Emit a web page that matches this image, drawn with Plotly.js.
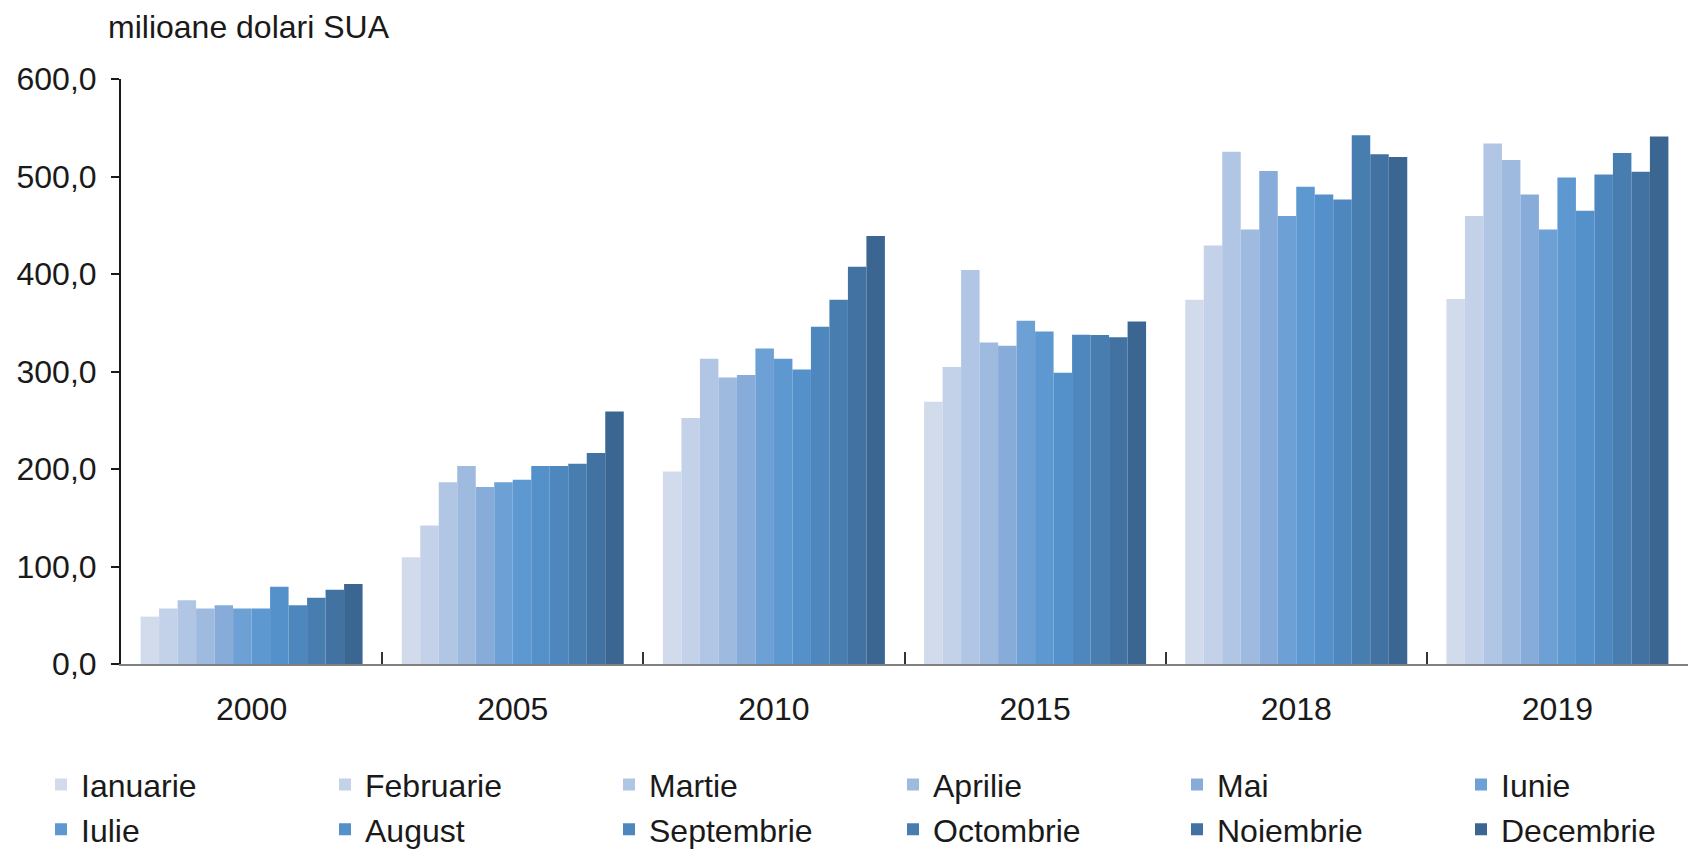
<!DOCTYPE html>
<html>
<head>
<meta charset="utf-8">
<script src="https://cdn.plot.ly/plotly-3.0.1.min.js"></script>
<style>
  html, body { margin: 0; padding: 0; background: #ffffff; }
  #chart { width: 1690px; height: 859px; }
</style>
</head>
<body>
<div id="chart"></div>
<script>
// Categories (years)
var years = ["2000", "2005", "2010", "2015", "2018", "2019"];

// Month series names
var months = ["Ianuarie", "Februarie", "Martie", "Aprilie", "Mai", "Iunie",
              "Iulie", "August", "Septembrie", "Octombrie", "Noiembrie", "Decembrie"];

// Values (milioane dolari SUA), one array per month, ordered by year
var ianuarie   = [48.6, 109.4, 197.5, 268.9, 373.6, 374.3];
var februarie  = [57.0, 142.0, 252.3, 304.7, 429.2, 459.4];
var martie     = [65.3, 186.5, 313.1, 404.1, 525.3, 533.8];
var aprilie    = [57.0, 203.0, 293.8, 329.7, 445.6, 517.0];
var mai        = [60.3, 181.5, 296.4, 326.4, 505.7, 481.5];
var iunie      = [57.0, 186.5, 323.7, 352.0, 459.4, 445.6];
var iulie      = [57.0, 189.0, 313.1, 341.0, 489.6, 499.0];
var august     = [79.2, 203.0, 302.1, 298.8, 481.5, 465.0];
var septembrie = [60.3, 203.0, 346.0, 337.6, 476.5, 502.0];
var octombrie  = [68.0, 205.5, 373.5, 337.5, 542.4, 524.0];
var noiembrie  = [76.2, 216.5, 407.4, 335.1, 522.9, 505.0];
var decembrie  = [82.0, 259.0, 439.0, 351.3, 520.1, 541.0];

var series = [ianuarie, februarie, martie, aprilie, mai, iunie,
              iulie, august, septembrie, octombrie, noiembrie, decembrie];

// Y tick values
var yTicks = [0, 100, 200, 300, 400, 500, 600];

var colors = ["#d2dbeb", "#c3d2e9", "#b1c6e4", "#9fbadf", "#88acd9", "#6da0d5",
              "#5d98d1", "#5490c9", "#4e87be", "#487db0", "#4272a2", "#3b6692"];

var FONT = "Liberation Sans, Arial, sans-serif";
var TXT = "#1a1a1a";

// six legend columns (each with two rows), evenly spaced like the original
var legendNames = ["legend", "legend2", "legend3", "legend4", "legend5", "legend6"];
var PLOT_L = 121, PLOT_W = 1690 - 121 - 2;
var legendX = [0, 1, 2, 3, 4, 5].map(function (k) {
  return (41 + 284 * k - PLOT_L) / PLOT_W;
});

var traces = series.map(function (vals, i) {
  return {
    type: "bar",
    name: months[i],
    x: years,
    y: vals,
    marker: { color: colors[i], line: { width: 0 } },
    legend: legendNames[i % 6],
    hoverinfo: "x+y+name"
  };
});

var layout = {
  width: 1690,
  height: 859,
  paper_bgcolor: "#ffffff",
  plot_bgcolor: "#ffffff",
  font: { family: FONT, size: 32, color: TXT },
  separators: ",.",
  margin: { l: PLOT_L, r: 2, t: 79, b: 178, pad: 0 },
  barmode: "group",
  bargap: 0.15,
  bargroupgap: 0,
  title: {
    text: "milioane dolari SUA",
    font: { family: FONT, size: 32, color: TXT },
    xref: "container", x: 108 / 1690, xanchor: "left",
    yref: "container", y: 1 - 27 / 859, yanchor: "middle"
  },
  xaxis: {
    type: "category",
    showgrid: false,
    showline: true,
    linecolor: "#808080",
    linewidth: 2,
    ticks: "inside",
    tickson: "boundaries",
    ticklen: 12,
    tickwidth: 2,
    tickcolor: "#333333",
    ticklabelstandoff: 16,
    tickfont: { family: FONT, size: 32, color: TXT },
    zeroline: false
  },
  yaxis: {
    range: [0, 600],
    tickvals: yTicks,
    tickformat: ".1f",
    showgrid: false,
    zeroline: false,
    showline: true,
    linecolor: "#1a1a1a",
    linewidth: 2,
    ticks: "outside",
    ticklen: 8,
    tickwidth: 2,
    tickcolor: "#1a1a1a",
    ticklabelstandoff: 8,
    tickfont: { family: FONT, size: 32, color: TXT }
  },
  showlegend: true
};

legendNames.forEach(function (nm, k) {
  layout[nm] = {
    orientation: "v",
    x: legendX[k],
    xanchor: "left",
    y: -0.1595,
    yanchor: "top",
    bgcolor: "rgba(0,0,0,0)",
    borderwidth: 0,
    itemwidth: 30,
    tracegroupgap: 0,
    font: { family: FONT, size: 32, color: TXT }
  };
});

Plotly.newPlot("chart", traces, layout, { displayModeBar: false, staticPlot: true });
</script>
</body>
</html>
